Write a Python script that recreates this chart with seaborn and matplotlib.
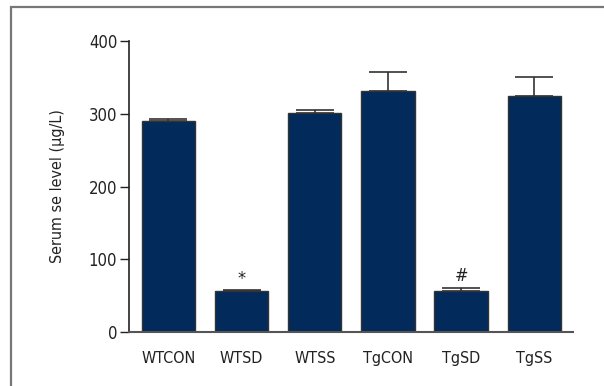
import matplotlib
matplotlib.use("Agg")
import matplotlib.pyplot as plt
from matplotlib.patches import Rectangle
import seaborn as sns
import pandas as pd

# Serum selenium per group (mean and SEM)
groups = ["WTCON", "WTSD", "WTSS", "TgCON", "TgSD", "TgSS"]
means = [290, 56, 301, 331, 56, 324]
sems = [3, 2, 4, 27, 5, 27]
marks = ["", "*", "", "", "#", ""]

sns.set_theme(style="white")
plt.rcParams["font.family"] = ["DejaVu Sans"]
plt.rcParams["font.stretch"] = "condensed"

df = pd.DataFrame({"group": groups, "mean": means, "sem": sems})

fig = plt.figure(figsize=(6.04, 3.86), dpi=100)
ax = fig.add_axes([129 / 604, 54 / 386, 444 / 604, 291 / 386])

navy = "#022a5b"
sns.barplot(data=df, x="group", y="mean", order=groups, color=navy,
            saturation=1, width=0.73, errorbar=None,
            edgecolor="#333333", linewidth=1.0, ax=ax)

# one-sided (upper) SEM whiskers
ax.errorbar(range(len(groups)), means,
            yerr=[[0] * len(groups), sems], fmt="none",
            ecolor="#333333", elinewidth=1.2, capsize=14, capthick=1.2,
            zorder=3)

for i, (m, s, t) in enumerate(zip(means, sems, marks)):
    if t:
        ax.text(i, m + s + 3, t, ha="center", va="bottom",
                fontsize=13, color="#222222")

ax.set_xlim(-0.54, 5.53)
ax.set_ylim(0, 400)
ax.set_yticks([0, 100, 200, 300, 400])
ax.set_xlabel("")
ax.set_ylabel("Serum se level (µg/L)", fontsize=11.5, labelpad=17,
              color="#222222")

for side in ("top", "right"):
    ax.spines[side].set_visible(False)
ax.spines["left"].set_color("#222222")
ax.spines["left"].set_linewidth(1.2)
ax.spines["bottom"].set_color("#555555")
ax.spines["bottom"].set_linewidth(1.5)

ax.tick_params(axis="y", which="both", left=True, length=6.5, width=1.0,
               color="#222222", pad=2, labelsize=12, labelcolor="#222222")
ax.tick_params(axis="x", bottom=False, pad=8, labelsize=11.5,
               labelcolor="#222222")

# outer panel frame
fig.patches.append(Rectangle((11 / 604, -0.05), 1.2, 379 / 386 + 0.05,
                             transform=fig.transFigure, fill=False,
                             edgecolor="#777777", linewidth=1.6))

fig.savefig("out.png", dpi=100)
